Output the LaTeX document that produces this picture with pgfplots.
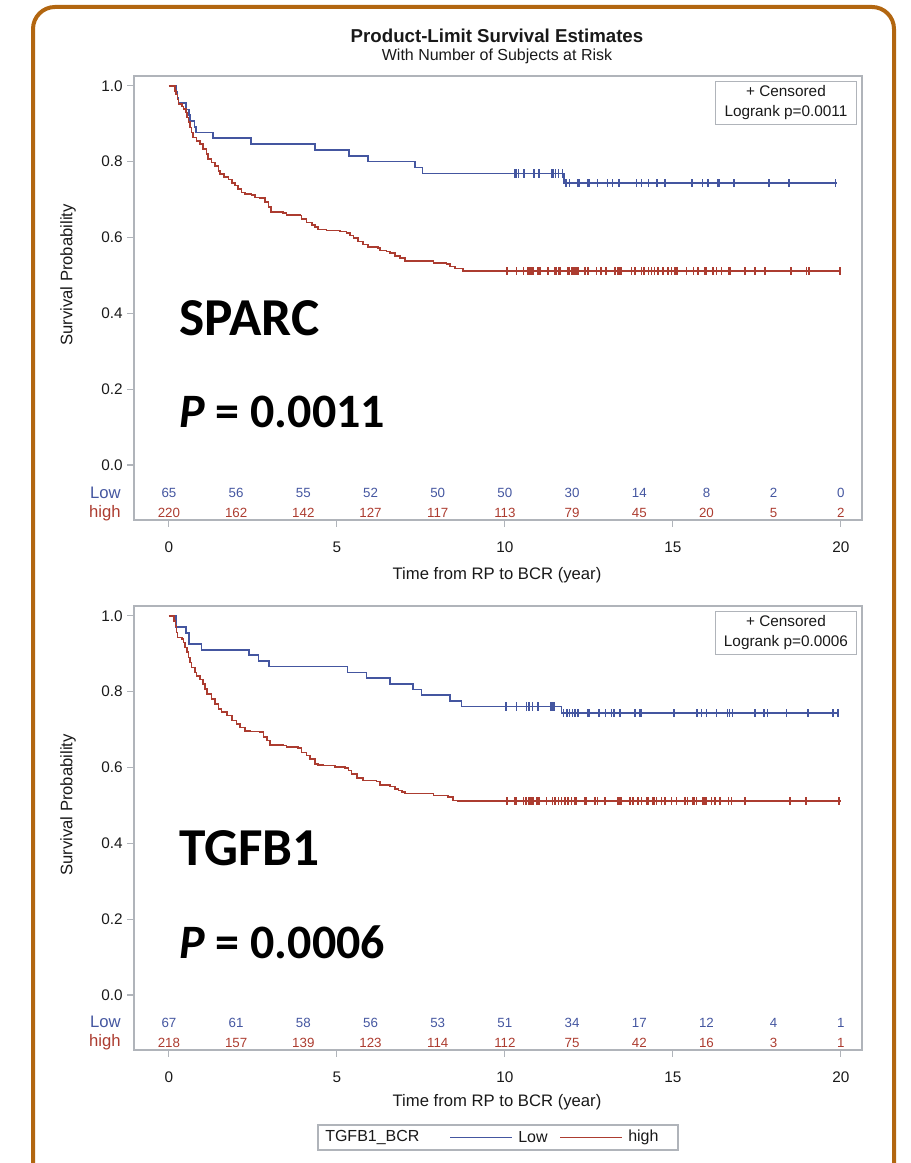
\documentclass[border=0pt]{standalone}
\usepackage{pgfplots}
\pgfplotsset{compat=1.18}
\usepackage{fontspec}
\setmainfont{Liberation Sans}
\newfontfamily\calibri{Carlito}

\definecolor{lowc}{RGB}{68,86,160}
\definecolor{highc}{RGB}{172,60,48}
\definecolor{framec}{RGB}{178,102,16}
\definecolor{axisc}{RGB}{176,180,186}
\definecolor{txt}{RGB}{25,25,25}

\tikzset{
  inset/.style={draw=axisc, fill=white, anchor=north east, align=center,
    font=\fontsize{11.5}{15.5}\selectfont, text=txt,
    minimum width=106pt, minimum height=32pt, inner sep=2pt},
  px/.style={x=0.75pt, y=0.75pt},
}

\pgfplotsset{
  kmaxis/.style={
    scale only axis, width=546pt, height=333pt,
    xmin=-1.04, xmax=20.63, ymin=-0.145, ymax=1.026,
    axis line style={axisc, line width=0.8pt},
    tick style={axisc, line width=0.8pt},
    major tick length=5pt,
    tick align=outside,
    xtick pos=left, ytick pos=left,
    xtick={0,5,10,15,20},
    ytick={0,0.2,0.4,0.6,0.8,1.0},
    /pgf/number format/assume math mode=true,
    yticklabel style={/pgf/number format/fixed,
      /pgf/number format/fixed zerofill,
      /pgf/number format/precision=1},
    ticklabel style={font=\fontsize{11.5}{13}\selectfont, text=txt},
    xticklabel style={text height=8.3pt, text depth=0pt, yshift=-7.5pt},
  },
  km/.style={const plot, line width=1.2pt, mark=none},
  cens/.style={only marks, mark=|, mark size=3.1pt, mark options={line width=1.15pt}},
  risk/.style={draw=none, mark=none, nodes near coords,
    point meta=explicit symbolic,
    every node near coord/.append style={anchor=center, inner sep=0pt,
      font=\fontsize{10}{12}\selectfont, text=#1}},
}

\begin{document}
\begin{tikzpicture}
\begin{scope}[px]
\useasboundingbox (0,0) rectangle (910,1163);

% rounded page frame
\draw[draw=framec, line width=3pt, rounded corners=16.5pt]
  (33,-30) -- (33,1156) -- (894,1156) -- (894,-30);

% titles
\node[font=\bfseries\fontsize{14}{16}\selectfont, text=txt] at (497,1127) {Product-Limit Survival Estimates};
\node[font=\fontsize{12}{14}\selectfont, text=txt] at (497,1107) {With Number of Subjects at Risk};
\end{scope}

%================ SPARC ================
\begin{axis}[kmaxis, at={(100.5pt,482.25pt)}, anchor=south west]
% Low group
\addplot[km, lowc] coordinates {
 (0,1) (0.21,0.985) (0.25,0.969) (0.28,0.954) (0.50,0.938) (0.60,0.923)
 (0.625,0.908) (0.76,0.892) (0.80,0.877) (1.32,0.862) (2.44,0.846)
 (4.35,0.831) (5.36,0.815) (5.93,0.800) (7.32,0.785) (7.55,0.769)
 (11.76,0.743) (19.90,0.743)};
\addplot[cens, lowc] coordinates {
 (10.30,0.769) (10.35,0.769) (10.40,0.769) (10.57,0.769) (10.86,0.769)
 (11.02,0.769) (11.40,0.769) (11.45,0.769) (11.50,0.769) (11.59,0.769)
 (11.72,0.769)
 (11.82,0.743) (11.93,0.743) (12.18,0.743) (12.22,0.743) (12.46,0.743)
 (12.50,0.743) (12.75,0.743) (13.06,0.743) (13.20,0.743) (13.40,0.743)
 (13.92,0.743) (14.07,0.743) (14.27,0.743) (14.52,0.743) (14.76,0.743)
 (15.57,0.743) (15.88,0.743) (16.05,0.743) (16.35,0.743) (16.39,0.743)
 (16.82,0.743) (17.86,0.743) (18.45,0.743) (19.84,0.743)};
% high group
\addplot[km, highc] coordinates {
 (0,1) (0.18,0.986) (0.21,0.977) (0.25,0.964) (0.28,0.952) (0.38,0.946)
 (0.43,0.939) (0.50,0.930) (0.53,0.917) (0.58,0.904) (0.63,0.890)
 (0.67,0.877) (0.72,0.864) (0.82,0.855) (0.92,0.846) (1.02,0.833)
 (1.12,0.820) (1.17,0.807) (1.27,0.798) (1.37,0.789) (1.47,0.776)
 (1.52,0.768) (1.64,0.759) (1.77,0.753) (1.87,0.744) (1.96,0.737)
 (2.06,0.728) (2.16,0.719) (2.26,0.715) (2.46,0.712) (2.56,0.706)
 (2.71,0.704) (2.86,0.693) (2.96,0.680) (3.03,0.667) (3.40,0.664)
 (3.50,0.660) (3.90,0.658) (3.95,0.649) (4.10,0.640) (4.25,0.633)
 (4.35,0.627) (4.44,0.621) (4.69,0.618) (5.09,0.616) (5.29,0.612)
 (5.39,0.605) (5.49,0.598) (5.63,0.590) (5.78,0.582) (5.93,0.575)
 (6.23,0.573) (6.28,0.566) (6.48,0.563) (6.58,0.559) (6.73,0.551)
 (6.88,0.546) (7.02,0.538) (7.87,0.532) (8.26,0.530) (8.36,0.524)
 (8.51,0.518) (8.76,0.511) (20.0,0.511)};
\addplot[cens, highc] coordinates {
 (10.07,0.511) (10.35,0.511) (10.55,0.511) (10.69,0.511) (10.74,0.511)
 (10.79,0.511) (10.84,0.511) (10.99,0.511) (11.04,0.511) (11.29,0.511)
 (11.49,0.511) (11.54,0.511) (11.59,0.511) (11.64,0.511) (11.88,0.511)
 (11.93,0.511) (11.98,0.511) (12.03,0.511) (12.08,0.511) (12.13,0.511)
 (12.18,0.511) (12.38,0.511) (12.48,0.511) (12.73,0.511) (12.86,0.511)
 (13.01,0.511) (13.27,0.511) (13.37,0.511) (13.42,0.511) (13.47,0.511)
 (13.77,0.511) (13.87,0.511) (14.07,0.511) (14.14,0.511) (14.27,0.511)
 (14.36,0.511) (14.46,0.511) (14.56,0.511) (14.71,0.511) (14.86,0.511)
 (14.96,0.511) (15.06,0.511) (15.13,0.511) (15.41,0.511) (15.62,0.511)
 (15.75,0.511) (15.95,0.511) (16.00,0.511) (16.20,0.511) (16.30,0.511)
 (16.45,0.511) (16.65,0.511) (16.70,0.511) (17.14,0.511) (17.44,0.511)
 (17.74,0.511) (18.51,0.511) (18.98,0.511) (19.06,0.511) (19.97,0.511)};
% numbers at risk
\addplot[risk=lowc] coordinates {
 (0,-0.074)[65] (2,-0.074)[56] (4,-0.074)[55] (6,-0.074)[52] (8,-0.074)[50]
 (10,-0.074)[50] (12,-0.074)[30] (14,-0.074)[14] (16,-0.074)[8]
 (18,-0.074)[2] (20,-0.074)[0]};
\addplot[risk=highc] coordinates {
 (0,-0.126)[220] (2,-0.126)[162] (4,-0.126)[142] (6,-0.126)[127]
 (8,-0.126)[117] (10,-0.126)[113] (12,-0.126)[79] (14,-0.126)[45]
 (16,-0.126)[20] (18,-0.126)[5] (20,-0.126)[2]};
\node[inset] at (rel axis cs:0.993,0.989) {+ Censored\\Logrank p=0.0011};
\end{axis}

%================ TGFB1 ================
\begin{axis}[kmaxis, at={(100.5pt,84.75pt)}, anchor=south west]
\addplot[km, lowc] coordinates {
 (0,1) (0.21,0.970) (0.50,0.955) (0.60,0.925) (0.97,0.910) (2.39,0.896)
 (2.66,0.881) (2.98,0.866) (5.31,0.851) (5.88,0.836) (6.58,0.821)
 (7.27,0.806) (7.52,0.791) (8.36,0.776) (8.71,0.761) (11.69,0.743)
 (19.95,0.743)};
\addplot[cens, lowc] coordinates {
 (10.03,0.761) (10.35,0.761) (10.65,0.761) (10.72,0.761) (10.82,0.761)
 (10.99,0.761) (11.36,0.761) (11.40,0.761) (11.44,0.761) (11.48,0.761)
 (11.75,0.743) (11.85,0.743) (11.93,0.743) (12.01,0.743) (12.08,0.743)
 (12.18,0.743) (12.46,0.743) (12.50,0.743) (12.80,0.743) (13.00,0.743)
 (13.17,0.743) (13.24,0.743) (13.42,0.743) (13.87,0.743) (14.02,0.743)
 (14.07,0.743) (15.03,0.743) (15.72,0.743) (15.85,0.743) (16.00,0.743)
 (16.30,0.743) (16.62,0.743) (16.68,0.743) (16.77,0.743) (17.44,0.743)
 (17.71,0.743) (17.81,0.743) (18.38,0.743) (19.02,0.743) (19.77,0.743)
 (19.92,0.743)};
\addplot[km, highc] coordinates {
 (0,1) (0.15,0.987) (0.19,0.974) (0.22,0.956) (0.25,0.943) (0.38,0.939)
 (0.43,0.930) (0.48,0.917) (0.53,0.904) (0.58,0.890) (0.63,0.877)
 (0.67,0.864) (0.77,0.851) (0.82,0.842) (0.92,0.832) (1.02,0.820)
 (1.07,0.807) (1.14,0.794) (1.27,0.781) (1.37,0.768) (1.47,0.754)
 (1.57,0.746) (1.72,0.737) (1.87,0.724) (2.01,0.715) (2.11,0.706)
 (2.26,0.697) (2.41,0.695) (2.71,0.693) (2.81,0.680) (2.91,0.671)
 (3.01,0.660) (3.40,0.658) (3.50,0.654) (3.85,0.651) (3.95,0.640)
 (4.10,0.632) (4.20,0.623) (4.35,0.610) (4.44,0.607) (4.59,0.605)
 (4.94,0.601) (5.24,0.599) (5.34,0.592) (5.44,0.583) (5.59,0.572)
 (5.78,0.566) (6.18,0.563) (6.28,0.554) (6.58,0.550) (6.73,0.544)
 (6.83,0.539) (6.93,0.535) (7.02,0.532) (7.87,0.526) (8.31,0.522)
 (8.46,0.513) (8.60,0.511) (20.0,0.511)};
\addplot[cens, highc] coordinates {
 (10.07,0.511) (10.30,0.511) (10.35,0.511) (10.55,0.511) (10.63,0.511)
 (10.70,0.511) (10.75,0.511) (10.79,0.511) (10.84,0.511) (10.94,0.511)
 (10.98,0.511) (11.02,0.511) (11.24,0.511) (11.42,0.511) (11.49,0.511)
 (11.59,0.511) (11.69,0.511) (11.79,0.511) (11.88,0.511) (11.98,0.511)
 (12.08,0.511) (12.13,0.511) (12.38,0.511) (12.43,0.511) (12.68,0.511)
 (12.75,0.511) (12.98,0.511) (13.37,0.511) (13.42,0.511) (13.47,0.511)
 (13.72,0.511) (13.82,0.511) (13.97,0.511) (14.07,0.511) (14.21,0.511)
 (14.26,0.511) (14.41,0.511) (14.46,0.511) (14.51,0.511) (14.66,0.511)
 (14.76,0.511) (14.96,0.511) (15.11,0.511) (15.36,0.511) (15.43,0.511)
 (15.60,0.511) (15.65,0.511) (15.70,0.511) (15.90,0.511) (15.94,0.511)
 (15.98,0.511) (16.15,0.511) (16.25,0.511) (16.40,0.511) (16.65,0.511)
 (16.75,0.511) (17.14,0.511) (18.48,0.511) (18.96,0.511) (19.94,0.511)};
\addplot[risk=lowc] coordinates {
 (0,-0.074)[67] (2,-0.074)[61] (4,-0.074)[58] (6,-0.074)[56] (8,-0.074)[53]
 (10,-0.074)[51] (12,-0.074)[34] (14,-0.074)[17] (16,-0.074)[12]
 (18,-0.074)[4] (20,-0.074)[1]};
\addplot[risk=highc] coordinates {
 (0,-0.126)[218] (2,-0.126)[157] (4,-0.126)[139] (6,-0.126)[123]
 (8,-0.126)[114] (10,-0.126)[112] (12,-0.126)[75] (14,-0.126)[42]
 (16,-0.126)[16] (18,-0.126)[3] (20,-0.126)[1]};
\node[inset] at (rel axis cs:0.993,0.989) {+ Censored\\Logrank p=0.0006};
\end{axis}

\begin{scope}[px]
% SPARC panel texts
\node[rotate=90, font=\fontsize{12.5}{14}\selectfont, text=txt] at (68,888) {Survival Probability};
\node[anchor=east, inner sep=0pt, font=\fontsize{12.5}{14}\selectfont, text=lowc] at (121,670) {Low};
\node[anchor=east, inner sep=0pt, font=\fontsize{12.5}{14}\selectfont, text=highc] at (121,650) {high};
\node[font=\fontsize{12.5}{14}\selectfont, text=txt] at (497,588) {Time from RP to BCR (year)};
\node[anchor=west, inner sep=0pt, font=\calibri\bfseries\fontsize{40}{42}\selectfont] at (179,845) {SPARC};
\node[anchor=west, inner sep=0pt, font=\calibri\bfseries\fontsize{36}{40}\selectfont] at (179,751) {\textit{P} = 0.0011};

% TGFB1 panel texts
\node[rotate=90, font=\fontsize{12.5}{14}\selectfont, text=txt] at (68,358) {Survival Probability};
\node[anchor=east, inner sep=0pt, font=\fontsize{12.5}{14}\selectfont, text=lowc] at (121,141) {Low};
\node[anchor=east, inner sep=0pt, font=\fontsize{12.5}{14}\selectfont, text=highc] at (121,121) {high};
\node[font=\fontsize{12.5}{14}\selectfont, text=txt] at (497,61) {Time from RP to BCR (year)};
\node[anchor=west, inner sep=0pt, font=\calibri\bfseries\fontsize{40}{42}\selectfont] at (179,315) {TGFB1};
\node[anchor=west, inner sep=0pt, font=\calibri\bfseries\fontsize{36}{40}\selectfont] at (179,221) {\textit{P} = 0.0006};

% group legend
\draw[draw=axisc, line width=0.8pt, fill=white] (318,13) rectangle (678,38);
\node[anchor=west, inner sep=0pt, font=\fontsize{12}{14}\selectfont, text=txt] at (325,25.5) {TGFB1\_BCR};
\draw[draw=lowc, line width=1.2pt] (450,25.5) -- (512,25.5);
\node[anchor=west, inner sep=0pt, font=\fontsize{12}{14}\selectfont, text=txt] at (518,25.5) {Low};
\draw[draw=highc, line width=1.2pt] (560,25.5) -- (622,25.5);
\node[anchor=west, inner sep=0pt, font=\fontsize{12}{14}\selectfont, text=txt] at (628,25.5) {high};
\end{scope}
\end{tikzpicture}
\end{document}
